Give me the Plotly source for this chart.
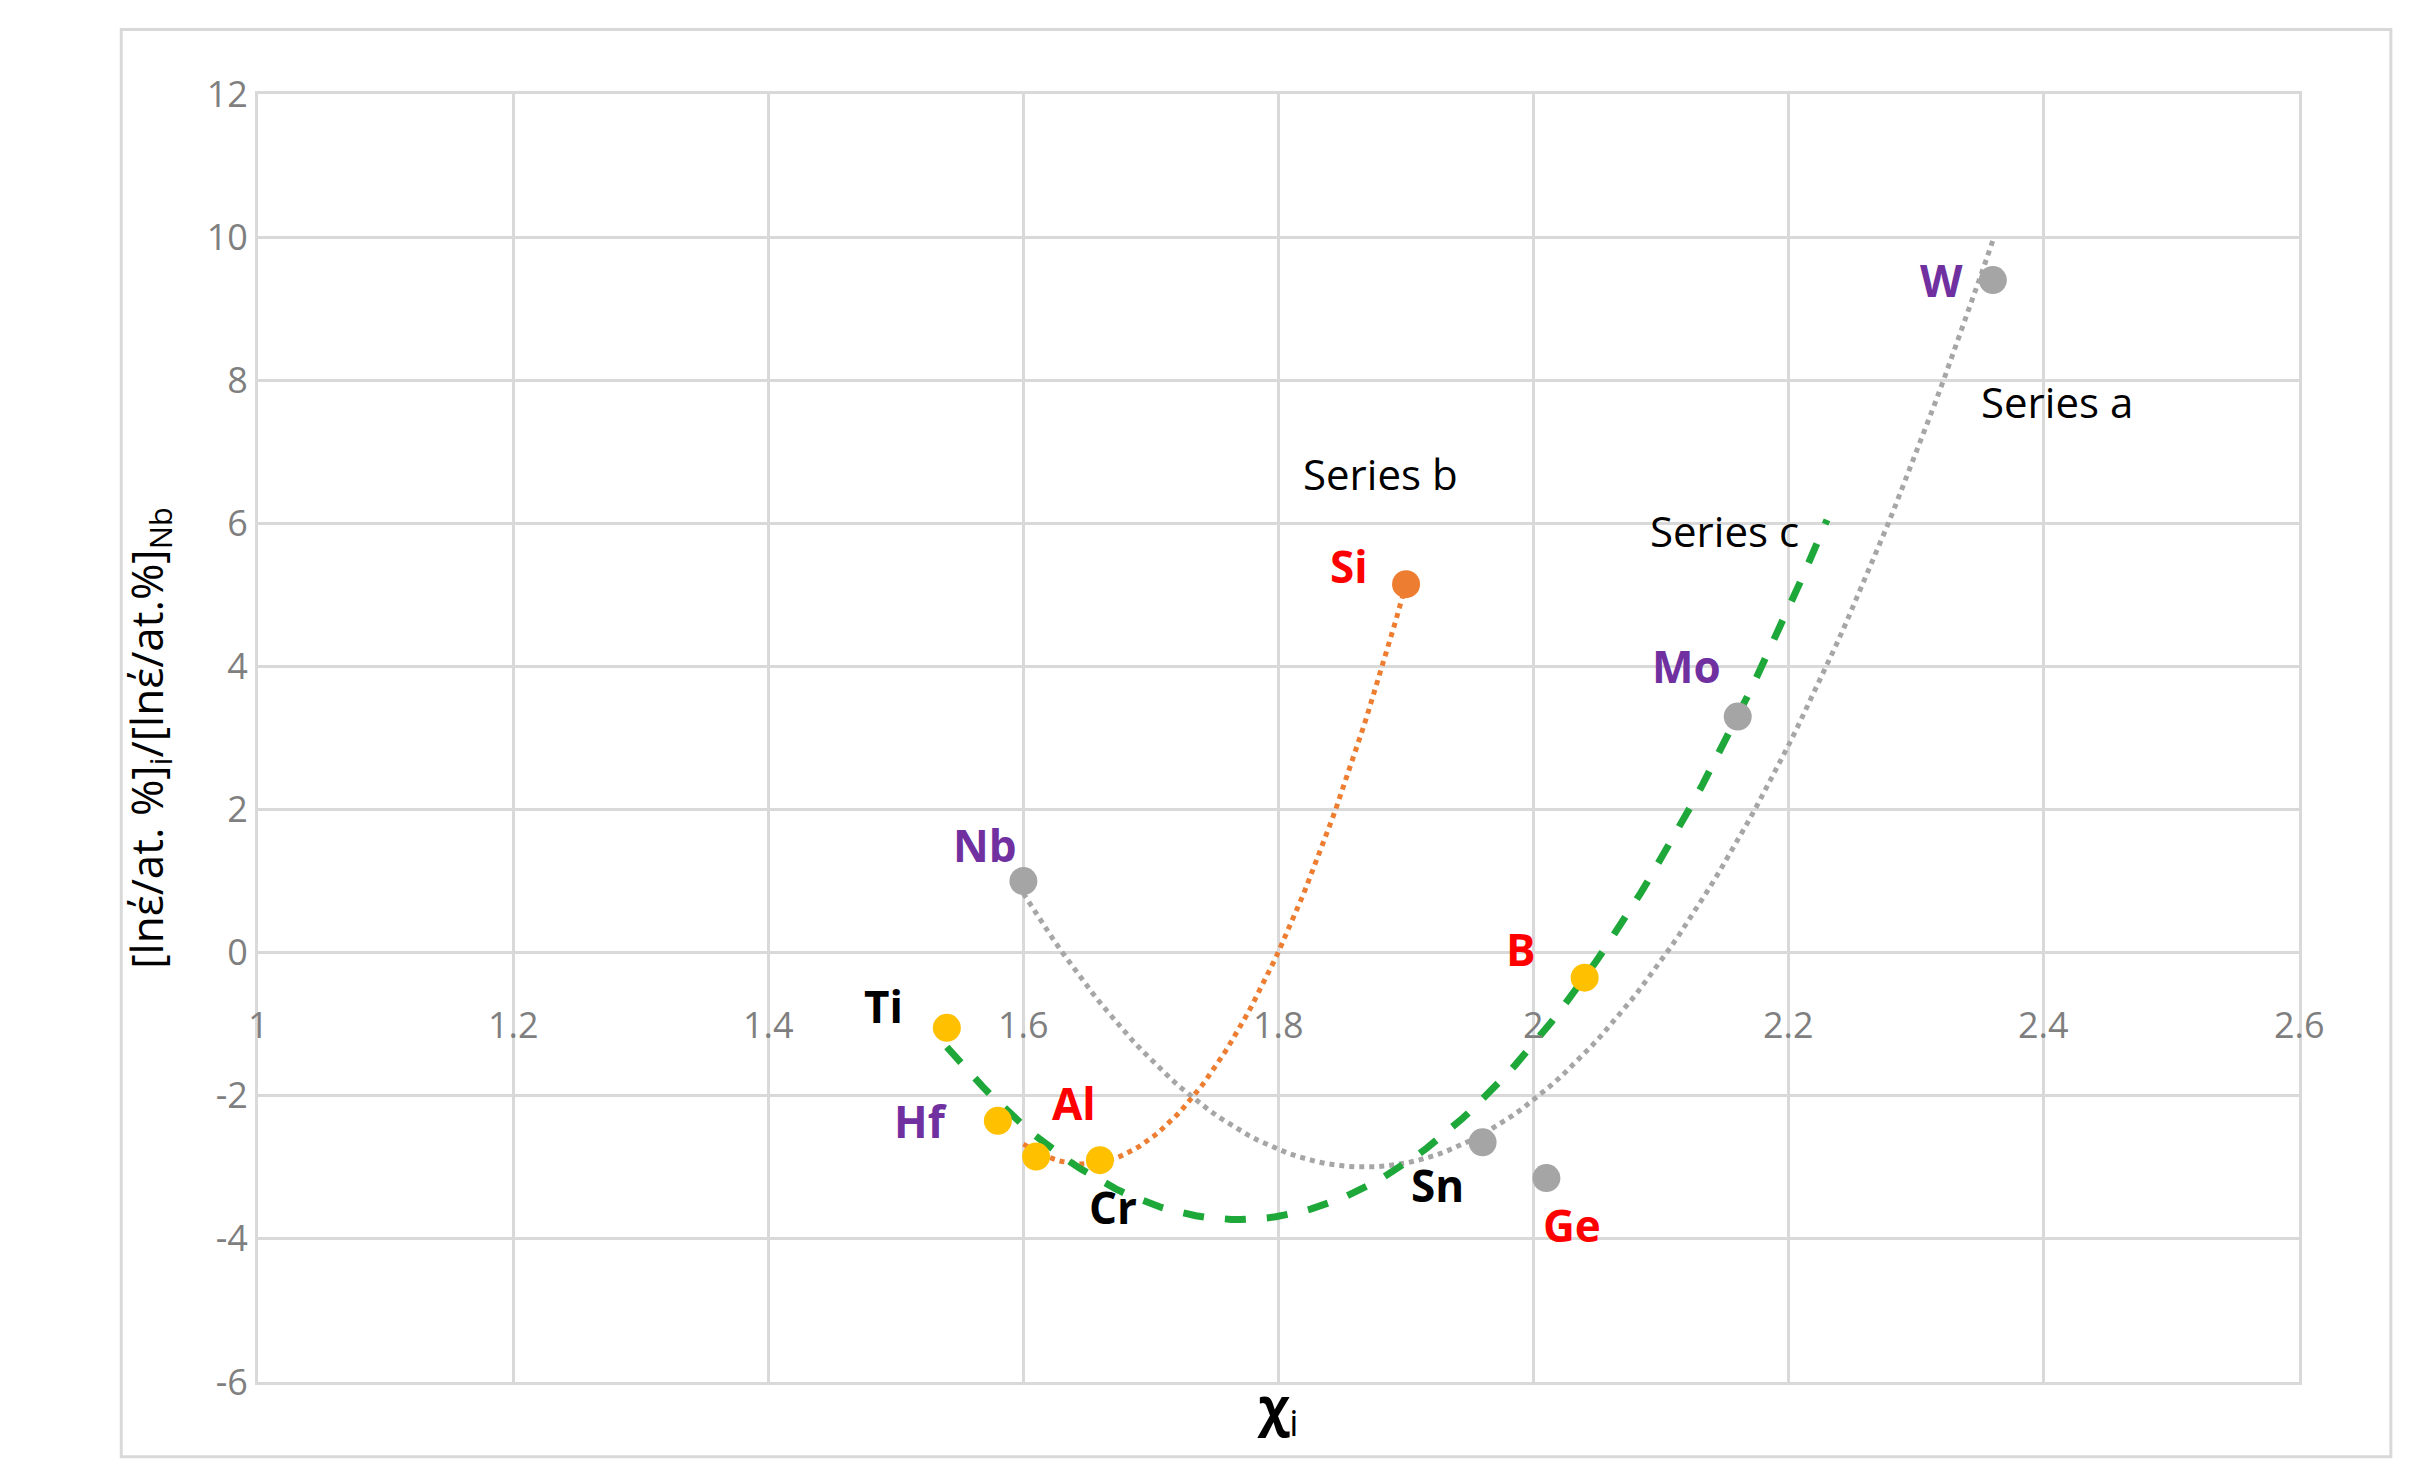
import numpy as np
import plotly.graph_objects as go

grey_names = ["Nb", "Sn", "Ge", "Mo", "W"]
grey_x = [1.6, 1.96, 2.01, 2.16, 2.36]
grey_y = [1.0, -2.65, -3.15, 3.3, 9.4]
orange_names = ["Si"]
orange_x = [1.9]
orange_y = [5.15]
yellow_names = ["Ti", "Hf", "Cr", "Al", "B"]
yellow_x = [1.54, 1.58, 1.61, 1.66, 2.04]
yellow_y = [-1.05, -2.35, -2.85, -2.9, -0.35]
x_ticks = [1, 1.2, 1.4, 1.6, 1.8, 2, 2.2, 2.4, 2.6]
y_ticks = [-6, -4, -2, 0, 2, 4, 6, 8, 10, 12]

fig = go.Figure()

def trend(xs, ys, x0, x1, color, dash):
    c = np.polyfit(xs, ys, 2)
    xx = np.linspace(x0, x1, 100)
    fig.add_trace(go.Scatter(x=xx, y=np.polyval(c, xx), mode="lines",
                             line=dict(color=color, dash=dash, width=5 if dash == "dot" else 7),
                             hoverinfo="skip"))

trend(grey_x, grey_y, 1.6, 2.36, "#a6a6a6", "dot")
trend(orange_x + yellow_x[1:4], orange_y + yellow_y[1:4], 1.6, 1.9, "#ed7d31", "dot")
trend(yellow_x + [grey_x[3]], yellow_y + [grey_y[3]], 1.54, 2.23, "#1fa83a", "dash")

for xs, ys, col in [(grey_x, grey_y, "#a5a5a5"), (orange_x, orange_y, "#ed7d31"), (yellow_x, yellow_y, "#ffc000")]:
    fig.add_trace(go.Scatter(x=xs, y=ys, mode="markers", marker=dict(color=col, size=28)))

labels = {
    "Nb": (1.57, 1.5, "#7030a0"), "Sn": (1.925, -3.25, "black"), "Ge": (2.03, -3.8, "#ff0000"),
    "Mo": (2.12, 4.0, "#7030a0"), "W": (2.32, 9.4, "#7030a0"), "Si": (1.855, 5.4, "#ff0000"),
    "Ti": (1.49, -0.75, "black"), "Hf": (1.52, -2.35, "#7030a0"), "Cr": (1.67, -3.55, "black"),
    "Al": (1.64, -2.1, "#ff0000"), "B": (1.99, 0.05, "#ff0000"),
}
for n, (x, y, c) in labels.items():
    fig.add_annotation(x=x, y=y, text=f"<b>{n}</b>", showarrow=False,
                       font=dict(size=44, color=c, family="Open Sans"))
for t, x, y in [("Series a", 2.41, 7.7), ("Series b", 1.88, 6.7), ("Series c", 2.15, 5.9)]:
    fig.add_annotation(x=x, y=y, text=t, showarrow=False, font=dict(size=42, color="black", family="Open Sans"))
for t in x_ticks:
    fig.add_annotation(x=t, y=-1.0, text=f"{t:g}", showarrow=False, font=dict(size=36, color="#7f7f7f"))

fig.update_layout(
    width=2431, height=1466, showlegend=False, plot_bgcolor="white", paper_bgcolor="white",
    margin=dict(l=250, r=140, t=86, b=92), font=dict(family="Open Sans"),
    shapes=[dict(type="rect", xref="paper", yref="paper", x0=-0.067, x1=1.045, y0=-0.058, y1=1.05,
                 line=dict(color="#d9d9d9", width=3))],
)
fig.update_xaxes(range=[1, 2.6], tickvals=x_ticks, showticklabels=False, showgrid=True,
                 gridcolor="#d9d9d9", gridwidth=3, zeroline=False, showline=True, linecolor="#d9d9d9",
                 linewidth=3, mirror=True,
                 title=dict(text="<b>χ</b><sub>i</sub>", font=dict(size=52, color="black"), standoff=5))
fig.update_yaxes(range=[-6, 12], tickvals=y_ticks, ticktext=[str(v) for v in y_ticks],
                 showgrid=True, gridcolor="#d9d9d9", gridwidth=3,
                 zeroline=True, zerolinecolor="#d9d9d9", zerolinewidth=3, showline=True, linecolor="#d9d9d9",
                 linewidth=3, mirror=True, tickfont=dict(size=36, color="#7f7f7f"), ticklen=0,
                 title=dict(text="[lnέ/at. %]<sub>i</sub>/[lnέ/at.%]<sub>Nb</sub>",
                            font=dict(size=44, color="black"), standoff=30))
fig.write_html("out.html")
